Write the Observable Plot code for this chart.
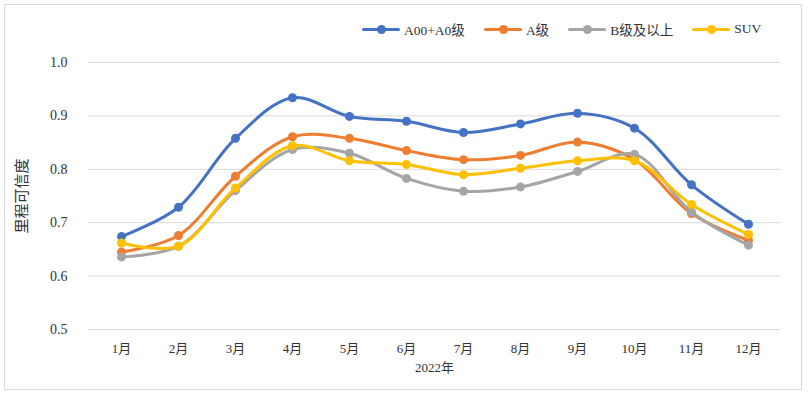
<!DOCTYPE html>
<html>
<head>
<meta charset="utf-8">
<script src="https://cdn.jsdelivr.net/npm/d3@7"></script>
<script src="https://cdn.jsdelivr.net/npm/@observablehq/plot@0.6"></script>
<style>
  body { margin: 0; background: #fff; }
  #wrap { position: relative; width: 808px; height: 395px; font-family: "Liberation Serif", "Noto Sans CJK SC", serif; color: #333; }
  #frame { position: absolute; left: 4px; top: 4px; width: 798px; height: 386px; border: 1px solid #d9d9d9; box-sizing: border-box; pointer-events: none; }
  #legend { position: absolute; top: 19px; left: 362px; display: flex; align-items: center; font-size: 13.5px; }
  .item { display: flex; align-items: center; margin-right: 19px; }
  .sw { position: relative; width: 38px; height: 3px; margin-right: 4px; border-radius: 2px; }
  .sw i { position: absolute; left: 15px; top: -3px; width: 9px; height: 9px; border-radius: 50%; }
</style>
</head>
<body>
<div id="wrap">
  <div id="chart"></div>
  <div id="legend"></div>
  <div id="frame"></div>
</div>
<script>
const months = ["1月","2月","3月","4月","5月","6月","7月","8月","9月","10月","11月","12月"];
const seriesNames = ["A00+A0级","A级","B级及以上","SUV"];
const seriesColors = ["#4472C4","#ED7D31","#A5A5A5","#FFC000"];
const a00a0 = [0.674,0.729,0.858,0.934,0.899,0.890,0.869,0.885,0.905,0.877,0.771,0.697];
const aClass = [0.645,0.676,0.787,0.861,0.858,0.835,0.818,0.826,0.851,0.818,0.717,0.667];
const bPlus = [0.636,0.656,0.760,0.837,0.830,0.783,0.759,0.767,0.796,0.828,0.720,0.658];
const suv = [0.662,0.656,0.765,0.844,0.816,0.809,0.790,0.802,0.816,0.816,0.734,0.678];
const yTicks = [0.5,0.6,0.7,0.8,0.9,1.0];
const yTitle = "里程可信度";
const xTitle = "2022年";

const allSeries = [a00a0, aClass, bPlus, suv];
const rows = [];
allSeries.forEach((vals, si) => vals.forEach((v, mi) => rows.push({month: months[mi], series: seriesNames[si], value: v})));

const marks = [
  Plot.gridY(yTicks, {stroke: "#d9d9d9", strokeOpacity: 1, strokeWidth: 1}),
  Plot.axisY(yTicks, {tickSize: 0, tickPadding: 21, tickFormat: d3.format(".1f"), label: null, fontSize: 14}),
  Plot.text([yTitle], {frameAnchor: "left", textAnchor: "middle", dx: -66, rotate: -90, fontSize: 15, fill: "#333"}),
  Plot.axisX({tickSize: 0, tickPadding: 14, label: xTitle, labelAnchor: "center", labelOffset: 42, labelArrow: "none", fontSize: 13})
];
seriesNames.forEach(name => {
  const d = rows.filter(r => r.series === name);
  marks.push(Plot.line(d, {x: "month", y: "value", stroke: "series", strokeWidth: 3, curve: "catmull-rom"}));
  marks.push(Plot.dot(d, {x: "month", y: "value", fill: "series", r: 4.5}));
});

const chart = Plot.plot({
  width: 808,
  height: 395,
  marginLeft: 88,
  marginRight: 28,
  marginTop: 62,
  marginBottom: 66,
  style: {fontFamily: "'Liberation Serif','Noto Sans CJK SC',serif", fontSize: "13px", color: "#333", background: "transparent"},
  x: {type: "point", domain: months, padding: 0.5},
  y: {domain: [0.5, 1.0]},
  color: {domain: seriesNames, range: seriesColors},
  marks
});
document.getElementById("chart").appendChild(chart);

const legend = document.getElementById("legend");
seriesNames.forEach((n, i) => {
  const it = document.createElement("div");
  it.className = "item";
  it.innerHTML = `<span class="sw" style="background:${seriesColors[i]}"><i style="background:${seriesColors[i]}"></i></span><span>${n}</span>`;
  legend.appendChild(it);
});
</script>
</body>
</html>
